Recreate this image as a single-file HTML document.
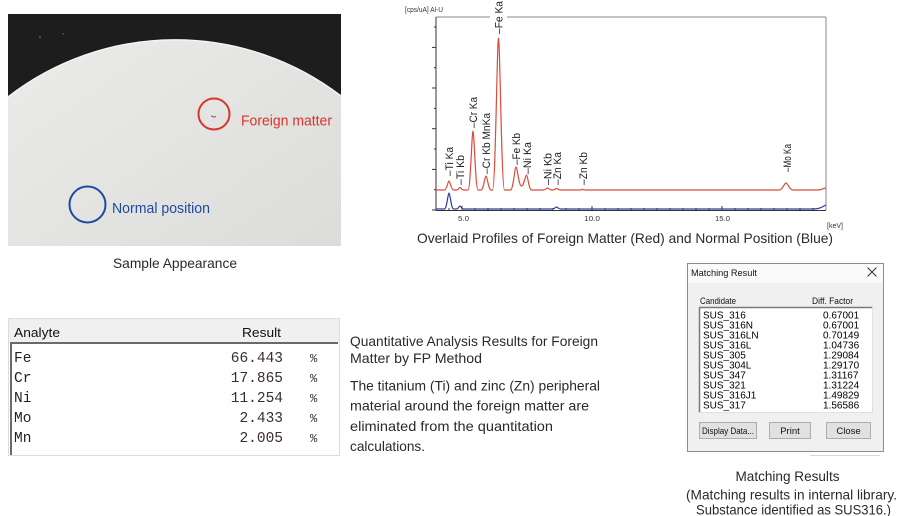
<!DOCTYPE html>
<html>
<head>
<meta charset="utf-8">
<style>
  html,body{margin:0;padding:0;background:#fff;}
  svg{display:block;}
  .cap{font-family:"Liberation Sans",sans-serif;font-size:14px;fill:#2a2a2a;}
  .lbl{font-family:"Liberation Sans",sans-serif;font-size:11px;fill:#222;}
  .tiny{font-family:"Liberation Sans",sans-serif;font-size:7px;fill:#333;}
  .mono{font-family:"Liberation Mono",monospace;font-size:14.5px;}
  .dlg{font-family:"Liberation Sans",sans-serif;font-size:9.5px;fill:#111;}
</style>
</head>
<body>
<svg width="900" height="516" viewBox="0 0 900 516" xmlns="http://www.w3.org/2000/svg">
  <defs>
    <linearGradient id="disc" x1="0" y1="0" x2="1" y2="1">
      <stop offset="0" stop-color="#ececea"/>
      <stop offset="1" stop-color="#dcdcda"/>
    </linearGradient>
  </defs>

  <!-- ============ PHOTO ============ -->
  <rect x="8" y="14" width="333" height="232" fill="url(#disc)"/>
  <path d="M8,14 H341 V96 A273,273 0 0 0 8,97 Z" fill="#1d1d1d"/>
  <path d="M341,96 A273,273 0 0 0 8,97" fill="none" stroke="#f4f4f2" stroke-width="1.5"/>
  <circle cx="40" cy="37" r="0.8" fill="#888"/>
  <circle cx="63" cy="34" r="0.7" fill="#777"/>
  <path d="M211,116 l3,1 l2,-0.5" stroke="#777" stroke-width="1.2" fill="none"/>
  <circle cx="214" cy="114" r="15.5" fill="none" stroke="#d9342b" stroke-width="2"/>
  <text x="241" y="125.5" font-family="Liberation Sans, sans-serif" font-size="14.5" fill="#d9342b" textLength="91" lengthAdjust="spacingAndGlyphs">Foreign matter</text>
  <circle cx="87.5" cy="204.5" r="18" fill="none" stroke="#1f4aa0" stroke-width="2"/>
  <text x="112" y="213" font-family="Liberation Sans, sans-serif" font-size="14.5" fill="#1f4aa0" textLength="98" lengthAdjust="spacingAndGlyphs">Normal position</text>
  <text class="cap" x="113" y="268" textLength="124" lengthAdjust="spacingAndGlyphs">Sample Appearance</text>

  <!-- ============ SPECTRUM ============ -->
  <text class="tiny" x="405" y="12" textLength="38" lengthAdjust="spacingAndGlyphs">[cps/uA]  Al-U</text>
  <line x1="436" y1="17" x2="490" y2="17" stroke="#8a8a8a" stroke-width="1"/>
  <line x1="507" y1="17" x2="826" y2="17" stroke="#8a8a8a" stroke-width="1"/>
  <line x1="826" y1="17" x2="826" y2="210" stroke="#8a8a8a" stroke-width="1"/>
  <line x1="436" y1="17" x2="436" y2="210.5" stroke="#333" stroke-width="1"/>
  <line x1="436" y1="210.5" x2="826" y2="210.5" stroke="#333" stroke-width="1"/>
  <g stroke="#333" stroke-width="1">
    <line x1="432" y1="210" x2="436" y2="210"/>
    <line x1="434" y1="189.7" x2="436" y2="189.7"/>
    <line x1="432" y1="169.4" x2="436" y2="169.4"/>
    <line x1="434" y1="149" x2="436" y2="149"/>
    <line x1="432" y1="128.7" x2="436" y2="128.7"/>
    <line x1="434" y1="108.4" x2="436" y2="108.4"/>
    <line x1="432" y1="88" x2="436" y2="88"/>
    <line x1="434" y1="67.7" x2="436" y2="67.7"/>
    <line x1="432" y1="47.4" x2="436" y2="47.4"/>
    <line x1="434" y1="27" x2="436" y2="27"/>
  </g>
  <g stroke="#333" stroke-width="1">
    <line x1="449" y1="210" x2="449" y2="208"/>
    <line x1="462" y1="210" x2="462" y2="206"/>
    <line x1="475" y1="210" x2="475" y2="208"/>
    <line x1="488" y1="210" x2="488" y2="208"/>
    <line x1="501" y1="210" x2="501" y2="208"/>
    <line x1="514" y1="210" x2="514" y2="208"/>
    <line x1="527" y1="210" x2="527" y2="208"/>
    <line x1="540" y1="210" x2="540" y2="208"/>
    <line x1="553" y1="210" x2="553" y2="208"/>
    <line x1="566" y1="210" x2="566" y2="208"/>
    <line x1="579" y1="210" x2="579" y2="208"/>
    <line x1="592" y1="210" x2="592" y2="206"/>
    <line x1="605" y1="210" x2="605" y2="208"/>
    <line x1="618" y1="210" x2="618" y2="208"/>
    <line x1="631" y1="210" x2="631" y2="208"/>
    <line x1="644" y1="210" x2="644" y2="208"/>
    <line x1="657" y1="210" x2="657" y2="208"/>
    <line x1="670" y1="210" x2="670" y2="208"/>
    <line x1="683" y1="210" x2="683" y2="208"/>
    <line x1="696" y1="210" x2="696" y2="208"/>
    <line x1="709" y1="210" x2="709" y2="208"/>
    <line x1="722" y1="210" x2="722" y2="206"/>
    <line x1="735" y1="210" x2="735" y2="208"/>
    <line x1="748" y1="210" x2="748" y2="208"/>
    <line x1="761" y1="210" x2="761" y2="208"/>
    <line x1="774" y1="210" x2="774" y2="208"/>
    <line x1="787" y1="210" x2="787" y2="208"/>
    <line x1="800" y1="210" x2="800" y2="208"/>
    <line x1="813" y1="210" x2="813" y2="208"/>
  </g>
  <text class="tiny" x="458" y="221" textLength="11" lengthAdjust="spacingAndGlyphs">5.0</text>
  <text class="tiny" x="584" y="221" textLength="16" lengthAdjust="spacingAndGlyphs">10.0</text>
  <text class="tiny" x="715" y="221" textLength="15" lengthAdjust="spacingAndGlyphs">15.0</text>
  <text class="tiny" x="827" y="228" textLength="16" lengthAdjust="spacingAndGlyphs">[keV]</text>

  <path fill="none" stroke="#2f3b9c" stroke-width="1.2" d="M436,209 H444.5
    C446.75,209 447.95,193 449,193 C450.05,193 451.25,209 453.5,209 H456.5
    C458.25,209 459.18,206 460,206 C460.82,206 461.75,209 463.5,209 H552.5
    C554.5,209 555.6,207 556.5,207 C557.4,207 558.5,209 560.5,209 H812
    C820,209 822,207 826,205"/>
  <path fill="none" stroke="#dc4a3a" stroke-width="1.2" d="M436,190 H444.5
    C446.75,190 447.95,181 449,181 C450.05,181 451.25,190 453.5,190 H456.5
    C458.25,190 459.18,187.5 460,187.5 C460.82,187.5 461.75,190 463.5,190 H468
    C470.5,190 471.83,131 473,131 C474.17,131 475.5,190 478,190 H481
    C483.5,190 484.83,176 486,176 C487.17,176 488.5,190 491,190 H492.5
    C495.5,190 497.1,38 498.5,38 C499.9,38 501.5,190 504.5,190 H510.5
    C513.25,190 514.72,167 516,167 C517.28,167 518.75,186 521.5,186
    C524,186 525.33,175 526.5,175 C527.67,175 529,190 531.5,190 H543.5
    C545.5,190 546.6,188 547.5,188 C548.4,188 549.5,190 551.5,190 H553
    C554.75,190 555.7,188.5 556.5,188.5 C557.3,188.5 558.25,190 560,190 H580
    C581.25,190 581.9,189.3 582.5,189.3 C583.1,189.3 583.75,190 585,190 H779
    C782.5,190 784.37,183 786,183 C787.63,183 789.5,190 793,190 H818
    C822,190 823,188 826,188"/>

  <g class="lbl">
    <text transform="translate(453,176) rotate(-90)" textLength="29" lengthAdjust="spacingAndGlyphs">–Ti Ka</text>
    <text transform="translate(464,185) rotate(-90)" textLength="30" lengthAdjust="spacingAndGlyphs">–Ti Kb</text>
    <text transform="translate(477,128) rotate(-90)" textLength="31" lengthAdjust="spacingAndGlyphs">–Cr Ka</text>
    <text transform="translate(490,174) rotate(-90)" textLength="61" lengthAdjust="spacingAndGlyphs">–Cr Kb  MnKa</text>
    <text transform="translate(502.5,34) rotate(-90)" textLength="33" lengthAdjust="spacingAndGlyphs">–Fe Ka</text>
    <text transform="translate(520,165) rotate(-90)" textLength="32" lengthAdjust="spacingAndGlyphs">–Fe Kb</text>
    <text transform="translate(531,174) rotate(-90)" textLength="32" lengthAdjust="spacingAndGlyphs">–Ni Ka</text>
    <text transform="translate(551.5,185) rotate(-90)" textLength="32" lengthAdjust="spacingAndGlyphs">–Ni Kb</text>
    <text transform="translate(561,185) rotate(-90)" textLength="33" lengthAdjust="spacingAndGlyphs">–Zn Ka</text>
    <text transform="translate(587,185) rotate(-90)" textLength="33" lengthAdjust="spacingAndGlyphs">–Zn Kb</text>
    <text transform="translate(791,172) rotate(-90)" textLength="28" lengthAdjust="spacingAndGlyphs">–Mo Ka</text>
  </g>

  <text class="cap" x="417" y="243" textLength="416" lengthAdjust="spacingAndGlyphs">Overlaid Profiles of Foreign Matter (Red) and Normal Position (Blue)</text>

  <!-- ============ TABLE ============ -->
  <rect x="8.5" y="318.5" width="331" height="137" fill="#fff" stroke="#dcdcdc" stroke-width="1"/>
  <rect x="9" y="319" width="330" height="23" fill="#f0f0f0"/>
  <line x1="10" y1="343" x2="338" y2="343" stroke="#6a6a6a" stroke-width="2"/>
  <line x1="11" y1="342" x2="11" y2="455" stroke="#6a6a6a" stroke-width="2"/>
  <text x="14" y="337" font-family="Liberation Sans, sans-serif" font-size="13" fill="#111" textLength="46" lengthAdjust="spacingAndGlyphs">Analyte</text>
  <text x="242" y="337" font-family="Liberation Sans, sans-serif" font-size="13" fill="#111" textLength="39" lengthAdjust="spacingAndGlyphs">Result</text>
  <g class="mono">
    <text x="14" y="362" fill="#222">Fe</text>
    <text x="14" y="382" fill="#222">Cr</text>
    <text x="14" y="402" fill="#222">Ni</text>
    <text x="14" y="422" fill="#222">Mo</text>
    <text x="14" y="442" fill="#222">Mn</text>
    <g fill="#3b2d2d" text-anchor="end">
      <text x="283" y="362">66.443</text>
      <text x="283" y="382">17.865</text>
      <text x="283" y="402">11.254</text>
      <text x="283" y="422">2.433</text>
      <text x="283" y="442">2.005</text>
    </g>
    <g fill="#333" font-size="12">
      <text x="310" y="362">%</text>
      <text x="310" y="382">%</text>
      <text x="310" y="402">%</text>
      <text x="310" y="422">%</text>
      <text x="310" y="442">%</text>
    </g>
  </g>

  <!-- ============ MIDDLE TEXT ============ -->
  <g class="cap" fill="#333">
    <text x="350" y="346" textLength="248" lengthAdjust="spacingAndGlyphs">Quantitative Analysis Results for Foreign</text>
    <text x="350" y="363" textLength="132" lengthAdjust="spacingAndGlyphs">Matter by FP Method</text>
    <text x="350" y="390.5" textLength="250" lengthAdjust="spacingAndGlyphs">The titanium (Ti) and zinc (Zn) peripheral</text>
    <text x="350" y="410.5" textLength="239" lengthAdjust="spacingAndGlyphs">material around the foreign matter are</text>
    <text x="350" y="431" textLength="203" lengthAdjust="spacingAndGlyphs">eliminated from the quantitation</text>
    <text x="350" y="451" textLength="75" lengthAdjust="spacingAndGlyphs">calculations.</text>
  </g>

  <!-- ============ DIALOG ============ -->
  <rect x="687.5" y="263.5" width="196" height="188" fill="#f0f0f0" stroke="#8c8c8c" stroke-width="1"/>
  <rect x="688" y="264" width="195" height="19" fill="#fafafa"/>
  <text class="dlg" x="691" y="276" textLength="66" lengthAdjust="spacingAndGlyphs">Matching Result</text>
  <g stroke="#333" stroke-width="1">
    <line x1="867.5" y1="267.5" x2="876.5" y2="276.5"/>
    <line x1="876.5" y1="267.5" x2="867.5" y2="276.5"/>
  </g>
  <text class="dlg" x="700" y="304" textLength="36" lengthAdjust="spacingAndGlyphs">Candidate</text>
  <text class="dlg" x="812" y="304" textLength="41" lengthAdjust="spacingAndGlyphs">Diff. Factor</text>
  <rect x="699" y="307" width="174" height="106" fill="#fff"/>
  <line x1="699" y1="307.5" x2="873" y2="307.5" stroke="#7a7a7a" stroke-width="1.5"/>
  <line x1="699.5" y1="307" x2="699.5" y2="413" stroke="#7a7a7a" stroke-width="1.5"/>
  <line x1="872.5" y1="307" x2="872.5" y2="413" stroke="#e0e0e0" stroke-width="1"/>
  <line x1="699" y1="412.5" x2="873" y2="412.5" stroke="#e0e0e0" stroke-width="1"/>
  <g font-family="Liberation Sans, sans-serif" font-size="10" fill="#000">
    <text x="703" y="318.5">SUS_316</text>
    <text x="703" y="328.5">SUS_316N</text>
    <text x="703" y="338.5">SUS_316LN</text>
    <text x="703" y="348.5">SUS_316L</text>
    <text x="703" y="358.5">SUS_305</text>
    <text x="703" y="368.5">SUS_304L</text>
    <text x="703" y="378.5">SUS_347</text>
    <text x="703" y="388.5">SUS_321</text>
    <text x="703" y="398.5">SUS_316J1</text>
    <text x="703" y="408.5">SUS_317</text>
    <text x="823" y="318.5">0.67001</text>
    <text x="823" y="328.5">0.67001</text>
    <text x="823" y="338.5">0.70149</text>
    <text x="823" y="348.5">1.04736</text>
    <text x="823" y="358.5">1.29084</text>
    <text x="823" y="368.5">1.29170</text>
    <text x="823" y="378.5">1.31167</text>
    <text x="823" y="388.5">1.31224</text>
    <text x="823" y="398.5">1.49829</text>
    <text x="823" y="408.5">1.56586</text>
  </g>
  <g fill="#e1e1e1" stroke="#adadad" stroke-width="1">
    <rect x="699.5" y="422.5" width="57" height="16"/>
    <rect x="769.5" y="422.5" width="41" height="16"/>
    <rect x="826.5" y="422.5" width="44" height="16"/>
  </g>
  <text class="dlg" x="728" y="434" text-anchor="middle" textLength="52" lengthAdjust="spacingAndGlyphs">Display Data...</text>
  <text class="dlg" x="790" y="434" text-anchor="middle">Print</text>
  <text class="dlg" x="848.5" y="434" text-anchor="middle">Close</text>
  <line x1="810" y1="455.5" x2="880" y2="455.5" stroke="#d8d8d8" stroke-width="1"/>

  <text class="cap" x="735.5" y="481" textLength="104" lengthAdjust="spacingAndGlyphs">Matching Results</text>
  <text class="cap" x="686" y="499.5" textLength="211" lengthAdjust="spacingAndGlyphs">(Matching results in internal library.</text>
  <text class="cap" x="696" y="514.5" textLength="195" lengthAdjust="spacingAndGlyphs">Substance identified as SUS316.)</text>
</svg>
</body>
</html>
